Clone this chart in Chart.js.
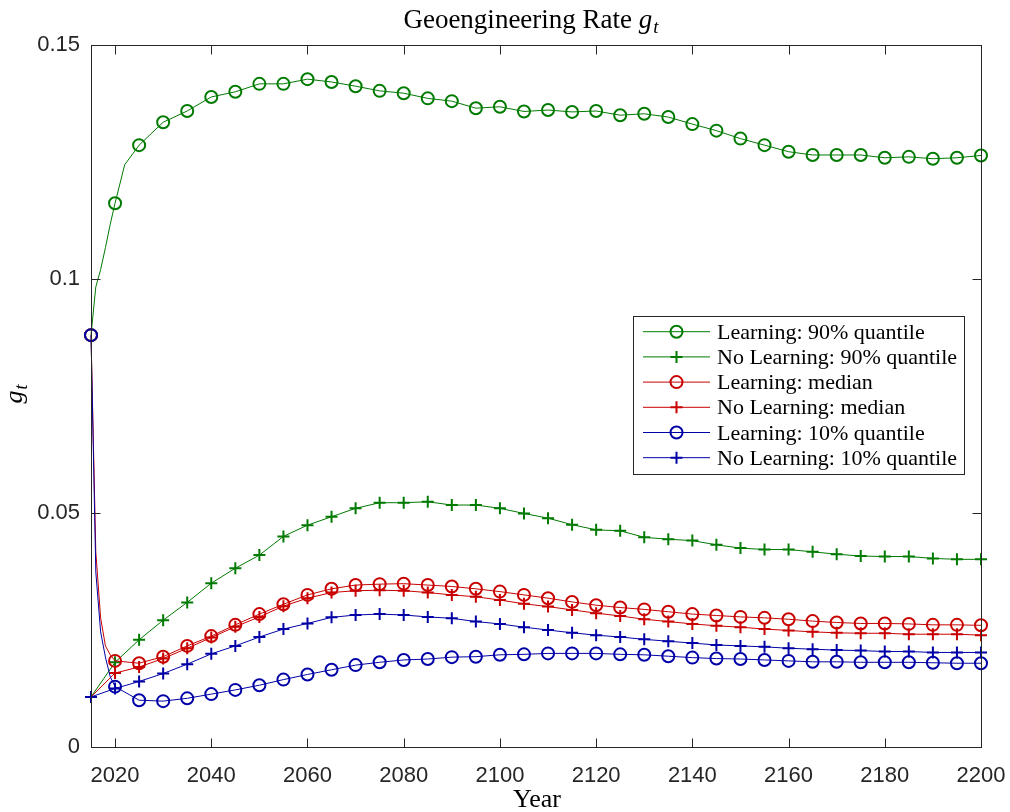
<!DOCTYPE html>
<html>
<head>
<meta charset="utf-8">
<script src="https://cdn.jsdelivr.net/npm/chart.js@4/dist/chart.umd.min.js"></script>
<style>
  html, body { margin: 0; padding: 0; background: #ffffff; }
  #wrap { width: 1010px; height: 812px; position: relative; }
</style>
</head>
<body>
<div id="wrap"><canvas id="c" width="1010" height="812"></canvas></div>
<script>
// Years sampled every 5 years (marker positions)
const fiveYears = [2015, 2020, 2025, 2030, 2035, 2040, 2045, 2050, 2055, 2060,
  2065, 2070, 2075, 2080, 2085, 2090, 2095, 2100, 2105, 2110,
  2115, 2120, 2125, 2130, 2135, 2140, 2145, 2150, 2155, 2160,
  2165, 2170, 2175, 2180, 2185, 2190, 2195, 2200];

// Extra early yearly samples where the learning paths change fast (no marker)
const earlyYears = [2016, 2017, 2018, 2019];
const earlyYears90 = [2016, 2017, 2018, 2019, 2021, 2022];

// Learning: 90% quantile
const learn90 = [0.0880, 0.1162, 0.1286, 0.1335, 0.1359, 0.1389, 0.1400, 0.1417, 0.1417, 0.1427,
  0.1421, 0.1412, 0.1402, 0.1397, 0.1386, 0.1380, 0.1365, 0.1368, 0.1358, 0.1361,
  0.1357, 0.1359, 0.1350, 0.1353, 0.1346, 0.1331, 0.1317, 0.1300, 0.1286, 0.1272,
  0.1265, 0.1265, 0.1265, 0.1259, 0.1261, 0.1257, 0.1259, 0.1264];
const learn90Early = [0.0983, 0.1020, 0.1067, 0.1117, 0.1203, 0.1244];

// No Learning: 90% quantile
const noLearn90 = [0.0107, 0.0181, 0.0229, 0.0271, 0.0309, 0.0350, 0.0382, 0.0410, 0.0450, 0.0474,
  0.0492, 0.0510, 0.0522, 0.0522, 0.0524, 0.0517, 0.0517, 0.0510, 0.0499, 0.0489,
  0.0475, 0.0464, 0.0462, 0.0448, 0.0444, 0.0441, 0.0432, 0.0425, 0.0422, 0.0422,
  0.0417, 0.0412, 0.0408, 0.0407, 0.0407, 0.0403, 0.0401, 0.0401];

// Learning: median
const learnMed = [0.0880, 0.0184, 0.0179, 0.0193, 0.0216, 0.0237, 0.0261, 0.0284, 0.0305, 0.0325,
  0.0338, 0.0346, 0.0348, 0.0349, 0.0346, 0.0343, 0.0338, 0.0332, 0.0325, 0.0318,
  0.0310, 0.0303, 0.0298, 0.0294, 0.0289, 0.0284, 0.0281, 0.0278, 0.0276, 0.0273,
  0.0269, 0.0266, 0.0264, 0.0264, 0.0263, 0.0261, 0.0261, 0.0260];
const learnMedEarly = [0.0417, 0.0276, 0.0216, 0.0197];

// No Learning: median
const noLearnMed = [0.0107, 0.0158, 0.0171, 0.0189, 0.0211, 0.0234, 0.0257, 0.0278, 0.0301, 0.0318,
  0.0330, 0.0334, 0.0335, 0.0334, 0.0330, 0.0325, 0.0321, 0.0314, 0.0306, 0.0300,
  0.0293, 0.0286, 0.0280, 0.0273, 0.0268, 0.0263, 0.0259, 0.0256, 0.0252, 0.0249,
  0.0246, 0.0244, 0.0243, 0.0243, 0.0241, 0.0241, 0.0241, 0.0239];

// Learning: 10% quantile
const learn10 = [0.0880, 0.0129, 0.0100, 0.0098, 0.0104, 0.0113, 0.0122, 0.0132, 0.0144, 0.0155,
  0.0165, 0.0175, 0.0181, 0.0186, 0.0188, 0.0192, 0.0193, 0.0197, 0.0198, 0.0200,
  0.0200, 0.0200, 0.0198, 0.0197, 0.0194, 0.0191, 0.0189, 0.0188, 0.0186, 0.0184,
  0.0182, 0.0182, 0.0181, 0.0181, 0.0181, 0.0180, 0.0179, 0.0179];
const learn10Early = [0.0374, 0.0246, 0.0192, 0.0150];

// No Learning: 10% quantile
const noLearn10 = [0.0107, 0.0125, 0.0140, 0.0157, 0.0177, 0.0199, 0.0216, 0.0235, 0.0252, 0.0264,
  0.0277, 0.0282, 0.0284, 0.0282, 0.0278, 0.0275, 0.0268, 0.0263, 0.0256, 0.0250,
  0.0244, 0.0239, 0.0235, 0.0230, 0.0226, 0.0222, 0.0218, 0.0216, 0.0214, 0.0211,
  0.0209, 0.0207, 0.0206, 0.0204, 0.0204, 0.0202, 0.0202, 0.0202];

// Axis ticks
const xTicks = [2020, 2040, 2060, 2080, 2100, 2120, 2140, 2160, 2180, 2200];
const yTicks = [0, 0.05, 0.1, 0.15];
const yTickLabels = ['0', '0.05', '0.1', '0.15'];

const GREEN = '#007a00';
const RED = '#c80000';
const BLUE = '#0000a6';
const AXIS = '#262626';

function points(years, values, extraYears, extraValues) {
  const pts = years.map((yr, i) => ({ x: yr, y: values[i] }));
  if (extraYears) extraYears.forEach((yr, i) => pts.push({ x: yr, y: extraValues[i] }));
  return pts.sort((a, b) => a.x - b.x);
}

function series(label, pts, color, style, order) {
  return {
    label: label,
    data: pts,
    borderColor: color,
    backgroundColor: 'rgba(0,0,0,0)',
    borderWidth: 1,
    pointStyle: style,
    pointBorderColor: color,
    pointBackgroundColor: 'rgba(0,0,0,0)',
    pointBorderWidth: 2,
    pointRadius: (c) => (c.raw && c.raw.x % 5 === 0 ? 6 : 0),
    pointHoverRadius: (c) => (c.raw && c.raw.x % 5 === 0 ? 6 : 0),
    tension: 0,
    clip: false,
    order: order
  };
}

const datasets = [
  series('Learning: 90% quantile', points(fiveYears, learn90, earlyYears90, learn90Early), GREEN, 'circle', 6),
  series('No Learning: 90% quantile', points(fiveYears, noLearn90), GREEN, 'cross', 5),
  series('Learning: median', points(fiveYears, learnMed, earlyYears, learnMedEarly), RED, 'circle', 4),
  series('No Learning: median', points(fiveYears, noLearnMed), RED, 'cross', 3),
  series('Learning: 10% quantile', points(fiveYears, learn10, earlyYears, learn10Early), BLUE, 'circle', 2),
  series('No Learning: 10% quantile', points(fiveYears, noLearn10), BLUE, 'cross', 1)
];

// Draws the boxed frame with inward ticks, titles and the inset legend
const frameAndLegend = {
  id: 'frameAndLegend',
  afterDatasetsDraw(chart) {
    const ctx = chart.ctx;
    const a = chart.chartArea;
    const xs = chart.scales.x, ys = chart.scales.y;
    const L = Math.round(a.left) + 0.5, R = Math.round(a.right) + 0.5;
    const T = Math.round(a.top) + 0.5, B = Math.round(a.bottom) + 0.5;
    const tl = 9;
    ctx.save();
    ctx.strokeStyle = AXIS;
    ctx.lineWidth = 1;
    ctx.strokeRect(L, T, R - L, B - T);
    ctx.beginPath();
    xTicks.forEach(v => {
      const px = Math.round(xs.getPixelForValue(v)) + 0.5;
      ctx.moveTo(px, B); ctx.lineTo(px, B - tl);
      ctx.moveTo(px, T); ctx.lineTo(px, T + tl);
    });
    yTicks.forEach(v => {
      const py = Math.round(ys.getPixelForValue(v)) + 0.5;
      ctx.moveTo(L, py); ctx.lineTo(L + tl, py);
      ctx.moveTo(R, py); ctx.lineTo(R - tl, py);
    });
    ctx.stroke();

    // Legend
    const bx = 633.5, by = 316.5, bw = 331, bh = 158;
    ctx.fillStyle = '#ffffff';
    ctx.fillRect(bx, by, bw, bh);
    ctx.strokeStyle = AXIS;
    ctx.strokeRect(bx, by, bw, bh);
    ctx.font = "22px 'Liberation Serif'";
    ctx.textAlign = 'left';
    ctx.textBaseline = 'alphabetic';
    chart.data.datasets.forEach((ds, i) => {
      const yy = 331.7 + i * 25.2;
      ctx.strokeStyle = ds.borderColor;
      ctx.lineWidth = 1;
      ctx.beginPath();
      ctx.moveTo(643, yy); ctx.lineTo(710, yy);
      ctx.stroke();
      ctx.lineWidth = 2;
      ctx.beginPath();
      if (ds.pointStyle === 'circle') {
        ctx.arc(676.5, yy, 6, 0, Math.PI * 2);
      } else {
        ctx.moveTo(670.5, yy); ctx.lineTo(682.5, yy);
        ctx.moveTo(676.5, yy - 6); ctx.lineTo(676.5, yy + 6);
      }
      ctx.stroke();
      ctx.fillStyle = '#000000';
      ctx.fillText(ds.label, 717, yy + 7);
    });
    ctx.restore();
  },
  afterDraw(chart) {
    const ctx = chart.ctx;
    ctx.save();
    ctx.fillStyle = '#000000';
    ctx.textBaseline = 'alphabetic';
    // Title: "Geoengineering Rate g_t"
    const main = 'Geoengineering Rate ';
    ctx.font = "27px 'Liberation Serif'";
    const w1 = ctx.measureText(main).width;
    ctx.font = "italic 27px 'Liberation Serif'";
    const w2 = ctx.measureText('g').width;
    ctx.font = "italic 19px 'Liberation Serif'";
    const w3 = ctx.measureText('t').width;
    let x0 = 531 - (w1 + w2 + w3 + 1) / 2;
    const base = 28;
    ctx.font = "27px 'Liberation Serif'";
    ctx.fillText(main, x0, base);
    ctx.font = "italic 27px 'Liberation Serif'";
    ctx.fillText('g', x0 + w1, base);
    ctx.font = "italic 19px 'Liberation Serif'";
    ctx.fillText('t', x0 + w1 + w2 + 1, base + 5);

    // X axis label
    ctx.font = "26px 'Liberation Serif'";
    ctx.textAlign = 'center';
    ctx.fillText('Year', 537, 807);

    // Y axis label g_t (rotated)
    ctx.translate(22, 394);
    ctx.rotate(-Math.PI / 2);
    ctx.textAlign = 'left';
    ctx.font = "italic 26px 'Liberation Serif'";
    const gw = ctx.measureText('g').width;
    ctx.font = "italic 18px 'Liberation Serif'";
    const tw = ctx.measureText('t').width;
    const sx = -(gw + tw + 1) / 2;
    ctx.font = "italic 26px 'Liberation Serif'";
    ctx.fillText('g', sx, 0);
    ctx.font = "italic 18px 'Liberation Serif'";
    ctx.fillText('t', sx + gw + 1, 5);
    ctx.restore();
  }
};

new Chart(document.getElementById('c'), {
  type: 'line',
  data: { datasets: datasets },
  plugins: [frameAndLegend],
  options: {
    responsive: false,
    animation: false,
    events: [],
    layout: { padding: { left: 0, right: 29, top: 45, bottom: 0 } },
    plugins: { legend: { display: false }, title: { display: false }, tooltip: { enabled: false } },
    scales: {
      x: {
        type: 'linear',
        min: 2015,
        max: 2200,
        grid: { display: false, drawTicks: false },
        border: { display: false },
        afterBuildTicks: (s) => { s.ticks = xTicks.map(v => ({ value: v })); },
        afterFit: (s) => { s.height = 65; s.paddingLeft = 0; s.paddingRight = 0; },
        ticks: {
          padding: 16,
          color: AXIS,
          font: { family: "'Liberation Sans'", size: 22 },
          maxRotation: 0,
          autoSkip: false,
          callback: (v) => String(v)
        }
      },
      y: {
        type: 'linear',
        min: 0,
        max: 0.15,
        grid: { display: false, drawTicks: false },
        border: { display: false },
        afterBuildTicks: (s) => { s.ticks = yTicks.map(v => ({ value: v })); },
        afterFit: (s) => { s.width = 91; s.paddingTop = 0; s.paddingBottom = 0; },
        ticks: {
          padding: 11,
          color: AXIS,
          font: { family: "'Liberation Sans'", size: 22 },
          autoSkip: false,
          callback: (v) => yTickLabels[yTicks.indexOf(v)] ?? String(v)
        }
      }
    }
  }
});
</script>
</body>
</html>
